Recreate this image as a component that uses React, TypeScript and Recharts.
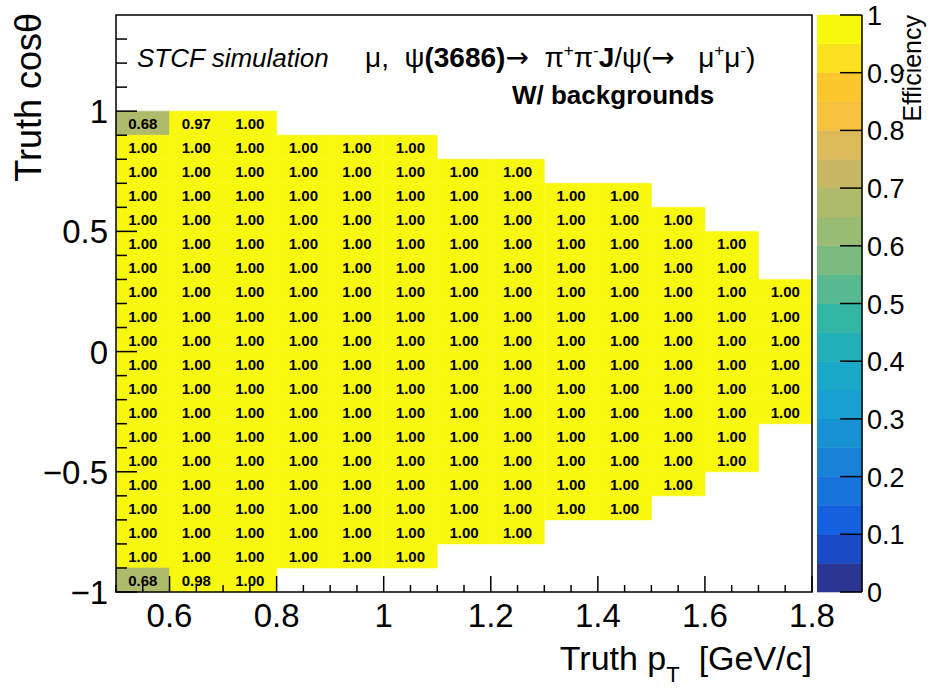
import React from 'react'
import { ComposedChart, XAxis, YAxis, ReferenceArea } from 'recharts'

// lower edges of the pT bins [GeV/c], width 0.1
const PT_LOW = [0.5, 0.6, 0.7, 0.8, 0.9, 1.0, 1.1, 1.2, 1.3, 1.4, 1.5, 1.6, 1.7]
// lower edges of the cos(theta) bins, top row first
const COS_LOW = [0.9, 0.8, 0.7, 0.6, 0.5, 0.4, 0.3, 0.2, 0.1, 0.0, -0.1, -0.2, -0.3, -0.4, -0.5, -0.6, -0.7, -0.8, -0.9, -1.0]
const BIN = 0.1

// efficiency per cos(theta) row, each row starts at pT = 0.5
const EFF = [
  [0.68, 0.97, 1.00],
  [1.00, 1.00, 1.00, 1.00, 1.00, 1.00],
  [1.00, 1.00, 1.00, 1.00, 1.00, 1.00, 1.00, 1.00],
  [1.00, 1.00, 1.00, 1.00, 1.00, 1.00, 1.00, 1.00, 1.00, 1.00],
  [1.00, 1.00, 1.00, 1.00, 1.00, 1.00, 1.00, 1.00, 1.00, 1.00, 1.00],
  [1.00, 1.00, 1.00, 1.00, 1.00, 1.00, 1.00, 1.00, 1.00, 1.00, 1.00, 1.00],
  [1.00, 1.00, 1.00, 1.00, 1.00, 1.00, 1.00, 1.00, 1.00, 1.00, 1.00, 1.00],
  [1.00, 1.00, 1.00, 1.00, 1.00, 1.00, 1.00, 1.00, 1.00, 1.00, 1.00, 1.00, 1.00],
  [1.00, 1.00, 1.00, 1.00, 1.00, 1.00, 1.00, 1.00, 1.00, 1.00, 1.00, 1.00, 1.00],
  [1.00, 1.00, 1.00, 1.00, 1.00, 1.00, 1.00, 1.00, 1.00, 1.00, 1.00, 1.00, 1.00],
  [1.00, 1.00, 1.00, 1.00, 1.00, 1.00, 1.00, 1.00, 1.00, 1.00, 1.00, 1.00, 1.00],
  [1.00, 1.00, 1.00, 1.00, 1.00, 1.00, 1.00, 1.00, 1.00, 1.00, 1.00, 1.00, 1.00],
  [1.00, 1.00, 1.00, 1.00, 1.00, 1.00, 1.00, 1.00, 1.00, 1.00, 1.00, 1.00, 1.00],
  [1.00, 1.00, 1.00, 1.00, 1.00, 1.00, 1.00, 1.00, 1.00, 1.00, 1.00, 1.00],
  [1.00, 1.00, 1.00, 1.00, 1.00, 1.00, 1.00, 1.00, 1.00, 1.00, 1.00, 1.00],
  [1.00, 1.00, 1.00, 1.00, 1.00, 1.00, 1.00, 1.00, 1.00, 1.00, 1.00],
  [1.00, 1.00, 1.00, 1.00, 1.00, 1.00, 1.00, 1.00, 1.00, 1.00],
  [1.00, 1.00, 1.00, 1.00, 1.00, 1.00, 1.00, 1.00],
  [1.00, 1.00, 1.00, 1.00, 1.00, 1.00],
  [0.68, 0.98, 1.00],
]

const X_TICKS = [0.5, 0.55, 0.6, 0.65, 0.7, 0.75, 0.8, 0.85, 0.9, 0.95, 1.0, 1.05, 1.1, 1.15, 1.2,
  1.25, 1.3, 1.35, 1.4, 1.45, 1.5, 1.55, 1.6, 1.65, 1.7, 1.75, 1.8]
const Y_TICKS = [-1.0, -0.9, -0.8, -0.7, -0.6, -0.5, -0.4, -0.3, -0.2, -0.1, 0.0, 0.1, 0.2, 0.3,
  0.4, 0.5, 0.6, 0.7, 0.8, 0.9, 1.0, 1.1, 1.2, 1.3]
const Z_TICKS = [0, 0.1, 0.2, 0.3, 0.4, 0.5, 0.6, 0.7, 0.8, 0.9, 1.0]

// 20 contour bands of the bird palette, 0 -> 1
const BAND_COLORS = [
  '#2c3592', '#1b4ac6', '#1460dd', '#1a72db', '#1a82d6', '#1891d2', '#199fd2', '#1aa8c8',
  '#22afb8', '#33b5a4', '#58b991', '#7bbb80', '#98bc73', '#aebb6b', '#c8b765', '#dcb95a',
  '#f5c13e', '#fcc72d', '#fae01f', '#f8f80f',
]

const FONT = '"Liberation Sans", Arial, Helvetica, sans-serif'
const ARROW_FONT = '"DejaVu Sans", sans-serif'

const bandColor = (v: number) => {
  const i = Math.min(BAND_COLORS.length - 1, Math.floor(v / 0.05 + 1e-9))
  return BAND_COLORS[Math.max(0, i)]
}

const fmt = (v: number) => {
  const r = Math.round(v * 10) / 10
  return r < 0 ? `\u2212${Math.abs(r)}` : `${r}`
}

/* eslint-disable @typescript-eslint/no-explicit-any */
function XTick({ x, y, payload }: any) {
  const v = payload.value
  const major = Math.abs(v * 5 - Math.round(v * 5)) < 1e-6
  return (
    <g>
      <line x1={x} x2={x} y1={y} y2={y - (major ? 16 : 7)} stroke="#000" strokeWidth={1.5} />
      {major && (
        <text x={x} y={y + 35} textAnchor="middle" fontSize={33} fontFamily={FONT} fill="#000">
          {fmt(v)}
        </text>
      )}
    </g>
  )
}

function YTick({ x, y, payload }: any) {
  const v = payload.value
  const major = Math.abs(v * 2 - Math.round(v * 2)) < 1e-6
  return (
    <g>
      <line x1={x} x2={x + (major ? 21 : 11)} y1={y} y2={y} stroke="#000" strokeWidth={1.5} />
      {major && (
        <text x={x - 8} y={y + 12} textAnchor="end" fontSize={33} fontFamily={FONT} fill="#000">
          {fmt(v)}
        </text>
      )}
    </g>
  )
}

function ZTick({ x, y, payload }: any) {
  return (
    <g>
      <line x1={x} x2={x - 22} y1={y} y2={y} stroke="#000" strokeWidth={1.5} />
      <text x={x + 5} y={y + 10} textAnchor="start" fontSize={27} fontFamily={FONT} fill="#000">
        {fmt(payload.value)}
      </text>
    </g>
  )
}

const cellLabel = (text: string) => (p: any) => {
  const vb = p.viewBox ?? p
  return (
    <text x={vb.x + vb.width / 2} y={vb.y + vb.height / 2 + 6} textAnchor="middle"
      fontSize={15} fontWeight="bold" fontFamily={FONT} fill="#000">
      {text}
    </text>
  )
}

export default function App() {
  const cells: { x1: number; y1: number; v: number }[] = []
  EFF.forEach((row, r) => row.forEach((v, c) => cells.push({ x1: PT_LOW[c], y1: COS_LOW[r], v })))

  return (
    <div style={{ position: 'absolute', left: 0, top: 0, width: 933, height: 688, background: '#fff' }}>
      <div style={{ position: 'absolute', left: 0, top: 0 }}>
        <ComposedChart width={933} height={688} margin={{ top: 15, right: 121, bottom: 0, left: 0 }}>
          <XAxis type="number" dataKey="x" domain={[0.5, 1.8]} ticks={X_TICKS} interval={0}
            allowDataOverflow tick={<XTick />} tickSize={0} tickMargin={0}
            axisLine={false} tickLine={false} height={96} />
          <YAxis type="number" dataKey="y" domain={[-1, 1.4]} ticks={Y_TICKS} interval={0}
            allowDataOverflow tick={<YTick />} tickSize={0} tickMargin={0}
            axisLine={false} tickLine={false} width={116} />
          {cells.map((c, i) => (
            <ReferenceArea key={`c-${i}`} x1={c.x1} x2={c.x1 + BIN} y1={c.y1} y2={c.y1 + BIN}
              fill={bandColor(c.v)} fillOpacity={1} stroke={bandColor(c.v)} strokeWidth={0.6}
              ifOverflow="visible" label={{ content: cellLabel(c.v.toFixed(2)) }} />
          ))}
          <ReferenceArea x1={0.5} x2={1.8} y1={-1} y2={1.4} fill="none" stroke="#000"
            strokeWidth={1.5} ifOverflow="visible" />
        </ComposedChart>
      </div>

      <div style={{ position: 'absolute', left: 817, top: 0 }}>
        <ComposedChart width={116} height={688} margin={{ top: 15, right: 0, bottom: 96, left: 0 }}>
          <XAxis type="number" dataKey="x" domain={[0, 1]} hide allowDataOverflow />
          <YAxis type="number" dataKey="z" orientation="right" domain={[0, 1]} ticks={Z_TICKS}
            interval={0} allowDataOverflow tick={<ZTick />} tickSize={0} tickMargin={0}
            axisLine={{ stroke: '#000', strokeWidth: 1.5 }} tickLine={false} width={71} />
          {BAND_COLORS.map((col, i) => (
            <ReferenceArea key={`z-${i}`} x1={0} x2={1} y1={i * 0.05} y2={(i + 1) * 0.05}
              fill={col} fillOpacity={1} stroke={col} strokeWidth={0.6} ifOverflow="visible" />
          ))}
        </ComposedChart>
      </div>

      <svg width={933} height={688} style={{ position: 'absolute', left: 0, top: 0, pointerEvents: 'none' }}
        fontFamily={FONT}>
        <text transform="translate(41,13) rotate(-90)" textAnchor="end" fontSize={36} fill="#000">
          Truth cos&#952;
        </text>
        <text x={812} y={670} textAnchor="end" fontSize={34} fill="#000" style={{ whiteSpace: 'pre' }}>
          Truth p<tspan fontSize={22} dy={12}>T</tspan><tspan dy={-12}>{'  [GeV/c]'}</tspan>
        </text>
        <text transform="translate(921,15) rotate(-90)" textAnchor="end" fontSize={25} fill="#000">
          Efficiency
        </text>
        <text x={137} y={67} fontSize={26} fontStyle="italic" fill="#000">STCF simulation</text>
        <text x={365} y={67} fontSize={28} fill="#000" style={{ whiteSpace: 'pre' }}>
          <tspan>{'\u03bc,  \u03c8'}</tspan>
          <tspan fontWeight="bold">(3686)</tspan>
          <tspan fontFamily={ARROW_FONT}>{'\u2192'}</tspan>
          <tspan>{'  \u03c0'}</tspan>
          <tspan fontSize={17} dy={-11}>+</tspan>
          <tspan dy={11}>{'\u03c0'}</tspan>
          <tspan fontSize={17} dy={-11}>-</tspan>
          <tspan fontWeight="bold" dy={11}>J</tspan>
          <tspan>{'/\u03c8('}</tspan>
          <tspan fontFamily={ARROW_FONT}>{'\u2192'}</tspan>
          <tspan>{'   \u03bc'}</tspan>
          <tspan fontSize={17} dy={-11}>+</tspan>
          <tspan dy={11}>{'\u03bc'}</tspan>
          <tspan fontSize={17} dy={-11}>-</tspan>
          <tspan dy={11}>)</tspan>
        </text>
        <text x={512} y={104} fontSize={26} fontWeight="bold" fill="#000">W/ backgrounds</text>
      </svg>
    </div>
  )
}
